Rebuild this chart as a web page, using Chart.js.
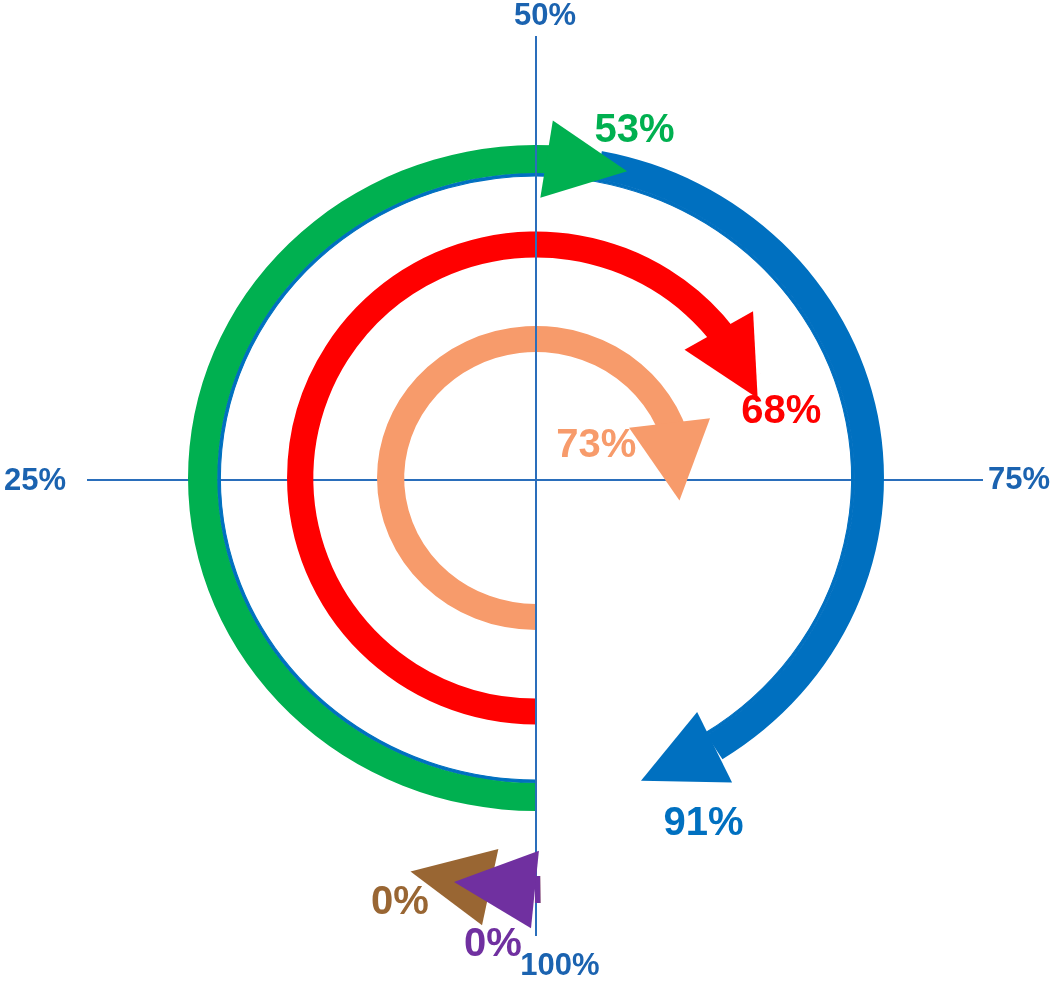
<!DOCTYPE html>
<html>
<head>
<meta charset="utf-8">
<title>Progress dial</title>
<script src="https://cdn.jsdelivr.net/npm/chart.js@4.4.1/dist/chart.umd.min.js"></script>
<style>
  html, body { margin: 0; padding: 0; background: #fff; }
</style>
</head>
<body>
<canvas id="myChart" width="1053" height="981"></canvas>
<script>
// quarter marks round the dial, clockwise from the bottom
const quarterTicks = ['25%', '50%', '75%', '100%'];

// one entry per arrow, percent of a full turn starting at the bottom
const arrowNames = ['Green', 'Blue', 'Red', 'Orange', 'Brown', 'Purple'];
const arrowValues = [53, 91, 68, 73, 0, 0];

// arrows sharing a ring, outer ring first; later members carry on from earlier ones
const ringMembers = [[4, 5], [0, 1], [2], [3]];

// look
const arrowColors = ['#00B050', '#0070C0', '#FF0000', '#F79B6B', '#996633', '#7030A0'];
const headBack = [50, 0, 57, 39, -44, -1];     // px of the head lying behind the value point
const labelShift = [[36, -34], [-11, 77], [32, 33], [-84, -15], [-136, 13], [-43, 55]];
const ringWidth = [27, 28, 26, 26];
const ringEdge = [0, 3, 0, 0];                  // thin underline below the ring
const ringGap = [65, 55.5, 68.5];
const ringStretch = [1.043, 1.045, 1.01, 1.046];
const OUTER_R = 425;
const CUTOUT_R = 126;
const HEAD_LEN = 78;
const HEAD_WIDTH = 78;
const STUB = 4;                                  // body stub drawn for a zero-length arrow

const AXIS_COLOR = '#2A6EBB';
const TICK_COLOR = '#1B63B0';
const axisReach = [449, 442, 447, 458];        // left, top, right, bottom
const AXIS_DROP = 2;
const tickShift = [[-21, 1], [9, -19.5], [5, 0], [24, 30]];
const tickAlign = ['right', 'center', 'left', 'center'];
const FONT = '"Liberation Sans", Arial, sans-serif';

// build the rings
const datasets = [];
const arrowSlot = [];
ringMembers.forEach((members, ring) => {
    let prev = 0;
    const data = [];
    const colors = [];
    members.forEach((m, k) => {
        data.push(arrowValues[m] - prev);
        colors.push(arrowColors[m]);
        prev = arrowValues[m];
        arrowSlot[m] = { ds: datasets.length, seg: k, ring: ring };
    });
    data.push(100 - prev);
    colors.push('rgba(0,0,0,0)');
    datasets.push({ data: data, backgroundColor: colors, weight: ringWidth[ring], ring: ring, borderWidth: 0 });

    if (ringEdge[ring]) {
        const last = arrowColors[members[members.length - 1]];
        datasets.push({
            data: [prev, 100 - prev],
            backgroundColor: [last, 'rgba(0,0,0,0)'],
            borderColor: [last, 'rgba(0,0,0,0)'],
            borderWidth: 1,
            weight: ringEdge[ring], ring: ring, edge: true
        });
    }
    if (ring < ringGap.length) {
        datasets.push({ data: [100], backgroundColor: ['rgba(0,0,0,0)'], weight: ringGap[ring], ring: -1, borderWidth: 0 });
    }
});

function stretch(ctx, x, sx) {
    ctx.translate(x, 0);
    ctx.scale(sx, 1);
    ctx.translate(-x, 0);
}

function slotArc(chart, m) {
    const s = arrowSlot[m];
    return chart.getDatasetMeta(s.ds).data[s.seg];
}

function headGeometry(arc, back) {
    const r = (arc.innerRadius + arc.outerRadius) / 2;
    const base = arc.endAngle - back / r;
    const half = Math.asin(HEAD_LEN / 2 / r);
    return { r: r, base: base, tip: base + 2 * half, half: half };
}

function drawHead(ctx, arc, back, color) {
    const g = headGeometry(arc, back);
    const bx = arc.x + g.r * Math.cos(g.base);
    const by = arc.y + g.r * Math.sin(g.base);
    const tx = arc.x + g.r * Math.cos(g.tip);
    const ty = arc.y + g.r * Math.sin(g.tip);
    const ux = (tx - bx) / HEAD_LEN;
    const uy = (ty - by) / HEAD_LEN;
    const h = HEAD_WIDTH / 2;
    ctx.beginPath();
    ctx.moveTo(bx - uy * h, by + ux * h);
    ctx.lineTo(tx, ty);
    ctx.lineTo(bx + uy * h, by - ux * h);
    ctx.closePath();
    ctx.fillStyle = color;
    ctx.fill();
}

function drawStub(ctx, arc, color) {
    const a1 = arc.endAngle + 1 / arc.outerRadius;
    const a0 = arc.endAngle - STUB / arc.innerRadius;
    ctx.beginPath();
    ctx.arc(arc.x, arc.y, arc.outerRadius, a0, a1);
    ctx.arc(arc.x, arc.y, arc.innerRadius, a1, a0, true);
    ctx.closePath();
    ctx.fillStyle = color;
    ctx.fill();
}

const dialPlugin = {
    id: 'dial',
    beforeDatasetsDraw(chart) {
        const ctx = chart.ctx;
        const a = chart.chartArea;
        const cx = (a.left + a.right) / 2;
        const cy = (a.top + a.bottom) / 2 + AXIS_DROP;
        // horizontal axis runs under the rings
        ctx.save();
        ctx.strokeStyle = AXIS_COLOR;
        ctx.lineWidth = 2;
        ctx.beginPath();
        ctx.moveTo(cx - axisReach[0], cy);
        ctx.lineTo(cx + axisReach[2], cy);
        ctx.stroke();
        ctx.restore();
    },
    beforeDatasetDraw(chart, args) {
        const ctx = chart.ctx;
        const ds = chart.data.datasets[args.index];
        ctx.save();
        if (ds.ring < 0) return;
        const arcs = args.meta.data;
        stretch(ctx, arcs[0].x, ringStretch[ds.ring]);
        if (ds.edge) return;

        // trim the body under each head so its corners stay inside the triangle
        const cuts = [];
        ringMembers[ds.ring].forEach((m, k) => {
            if (headBack[m] <= 0 || arrowValues[m] === 0) return;
            const arc = arcs[k];
            const g = headGeometry(arc, headBack[m]);
            const halfRing = (arc.outerRadius - arc.innerRadius) / 2 + 1;
            const lead = (halfRing * Math.sin(g.half) + 1) / g.r;
            cuts.push([arc.x, arc.y, g.base + lead, arc.endAngle + 0.002]);
        });
        if (cuts.length) {
            ctx.beginPath();
            ctx.rect(-5000, -5000, 10000, 10000);
            cuts.forEach(c => {
                ctx.moveTo(c[0], c[1]);
                ctx.arc(c[0], c[1], 1000, c[2], c[3]);
                ctx.closePath();
            });
            ctx.clip('evenodd');
        }
    },
    afterDatasetDraw(chart) {
        chart.ctx.restore();
    },
    afterDatasetsDraw(chart) {
        const ctx = chart.ctx;
        const a = chart.chartArea;
        const cx = (a.left + a.right) / 2;
        const cy = (a.top + a.bottom) / 2;

        // vertical axis sits over the rings, under the heads
        ctx.save();
        ctx.strokeStyle = AXIS_COLOR;
        ctx.lineWidth = 2;
        ctx.beginPath();
        ctx.moveTo(cx, cy - axisReach[1]);
        ctx.lineTo(cx, cy + axisReach[3]);
        ctx.stroke();
        ctx.restore();

        arrowNames.forEach((name, m) => {
            const arc = slotArc(chart, m);
            ctx.save();
            stretch(ctx, arc.x, ringStretch[arrowSlot[m].ring]);
            if (arrowValues[m] === 0) drawStub(ctx, arc, arrowColors[m]);
            drawHead(ctx, arc, headBack[m], arrowColors[m]);
            ctx.restore();
        });

        // value labels
        ctx.save();
        ctx.font = 'bold 40px ' + FONT;
        ctx.textAlign = 'center';
        ctx.textBaseline = 'middle';
        arrowNames.forEach((name, m) => {
            const arc = slotArc(chart, m);
            const r = (arc.innerRadius + arc.outerRadius) / 2;
            const sx = ringStretch[arrowSlot[m].ring];
            const px = arc.x + sx * r * Math.cos(arc.endAngle);
            const py = arc.y + r * Math.sin(arc.endAngle);
            ctx.fillStyle = arrowColors[m];
            ctx.fillText(arrowValues[m] + '%', px + labelShift[m][0], py + labelShift[m][1]);
        });

        // quarter labels at the axis ends
        ctx.font = 'bold 31px ' + FONT;
        ctx.fillStyle = TICK_COLOR;
        const ends = [
            [cx - axisReach[0], cy + AXIS_DROP],
            [cx, cy - axisReach[1]],
            [cx + axisReach[2], cy + AXIS_DROP],
            [cx, cy + axisReach[3]]
        ];
        quarterTicks.forEach((t, i) => {
            ctx.textAlign = tickAlign[i];
            ctx.fillText(t, ends[i][0] + tickShift[i][0], ends[i][1] + tickShift[i][1]);
        });
        ctx.restore();
    }
};

const ctx = document.getElementById('myChart');
const chart = new Chart(ctx, {
    type: 'doughnut',
    data: {
        labels: ['a', 'b', 'c'],
        datasets: datasets
    },
    options: {
        responsive: false,
        devicePixelRatio: 1,
        animation: false,
        events: [],
        rotation: 180,
        cutout: (CUTOUT_R / OUTER_R * 100) + '%',
        layout: {
            padding: { left: 111, right: 92, top: 53, bottom: 78 }
        },
        plugins: {
            legend: { display: false },
            tooltip: { enabled: false }
        }
    },
    plugins: [dialPlugin]
});
</script>
</body>
</html>
